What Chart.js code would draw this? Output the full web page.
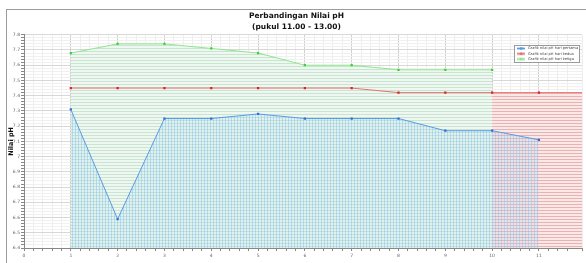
<!DOCTYPE html>
<html>
<head>
<meta charset="utf-8">
<script src="https://cdn.jsdelivr.net/npm/chart.js@4.4.0/dist/chart.umd.min.js"></script>
<style>
  html, body { margin: 0; padding: 0; overflow: hidden; background: #fff; }
  #wrap { width: 586px; height: 272px; position: relative; }
</style>
</head>
<body>
<div id="wrap"><canvas id="ph"></canvas></div>
<script>
// data
const dataX = [1, 2, 3, 4, 5, 6, 7, 8, 9, 10, 11, 12];
const phDay1 = [7.31, 6.59, 7.25, 7.25, 7.28, 7.25, 7.25, 7.25, 7.17, 7.17, 7.11];
const phDay2 = [7.45, 7.45, 7.45, 7.45, 7.45, 7.45, 7.45, 7.42, 7.42, 7.42, 7.42, 7.42];
const phDay3 = [7.68, 7.74, 7.74, 7.71, 7.68, 7.60, 7.60, 7.57, 7.57, 7.57];
const seriesLabels = ['Grafik nilai pH hari pertama', 'Grafik nilai pH hari kedua', 'Grafik nilai pH hari ketiga'];
const titleLines = ['Perbandingan Nilai pH', '(pukul 11.00 - 13.00)'];
const xTitle = 'Jumlah Data Pengujian pH';
const yTitle = 'Nilai pH';

const pts = (ys) => ys.map((y, i) => ({ x: dataX[i], y: y }));

function hatch(bg, line, vertical, gap) {
  const c = document.createElement('canvas');
  c.width = gap; c.height = gap;
  const g = c.getContext('2d');
  g.fillStyle = bg;
  g.fillRect(0, 0, gap, gap);
  g.fillStyle = line;
  if (vertical) g.fillRect(0, 0, 1, gap);
  else g.fillRect(0, 0, gap, 1);
  return g.createPattern(c, 'repeat');
}

const isMajor = (v, step) => Math.abs(v / step - Math.round(v / step)) < 1e-6;

// gray frame around the figure
const framePlugin = {
  id: 'frame',
  beforeDraw(chart) {
    const ctx = chart.ctx;
    ctx.save();
    ctx.strokeStyle = '#9c9c9c';
    ctx.lineWidth = 1;
    ctx.strokeRect(6.5, 9.5, 700, 400);
    ctx.restore();
  }
};

// small boxed legend inside the plot, top right
const boxLegend = {
  id: 'boxLegend',
  afterDatasetsDraw(chart) {
    const ctx = chart.ctx;
    const x = 514, y = 45, w = 65, h = 17;
    ctx.save();
    ctx.fillStyle = '#fff';
    ctx.fillRect(x, y, w, h);
    ctx.strokeStyle = '#9a9a9a';
    ctx.strokeRect(x + 0.5, y + 0.5, w, h);
    ctx.font = '3.6px "DejaVu Sans"';
    ctx.textBaseline = 'middle';
    chart.data.datasets.forEach((ds, i) => {
      const cy = y + 3.5 + i * 5.3;
      ctx.fillStyle = ds.legendFill;
      ctx.fillRect(x + 3, cy - 1.5, 8, 3);
      ctx.fillStyle = ds.borderColor;
      ctx.fillRect(x + 3, cy - 0.5, 8, 1);
      ctx.fillRect(x + 6, cy - 1.2, 2.4, 2.4);
      ctx.fillStyle = '#444';
      ctx.fillText(ds.label, x + 14, cy);
    });
    ctx.restore();
  }
};

const phConfig = {
  type: 'line',
  data: {
    datasets: [
      {
        label: seriesLabels[0],
        data: pts(phDay1),
        borderColor: '#5a9be6',
        pointBackgroundColor: '#2f6fd8',
        legendFill: '#bcd8f4',
        backgroundColor: hatch('rgba(175,215,240,0.2)', 'rgba(135,195,238,0.5)', true, 3),
        fill: 'start',
        order: 0,
      },
      {
        label: seriesLabels[1],
        data: pts(phDay2),
        borderColor: '#e87070',
        pointBackgroundColor: '#e02020',
        legendFill: '#f2c4c4',
        backgroundColor: hatch('#f9e8e8', '#ebb2b2', false, 3),
        fill: 'start',
        order: 2,
      },
      {
        label: seriesLabels[2],
        data: pts(phDay3),
        borderColor: '#8ee68e',
        pointBackgroundColor: '#3fcf3f',
        legendFill: '#cdf0cd',
        backgroundColor: hatch('#eef7f1', '#c9e5d0', false, 3),
        fill: 'start',
        order: 1,
      },
    ],
  },
  options: {
    responsive: true,
    maintainAspectRatio: false,
    animation: false,
    layout: { padding: { left: 7, right: 0, top: 10, bottom: 0 } },
    elements: {
      line: { borderWidth: 1, tension: 0 },
      point: { pointStyle: 'rect', radius: 1.6, borderWidth: 0 },
    },
    plugins: {
      legend: { display: false },
      tooltip: { enabled: false },
      filler: { drawTime: 'beforeDatasetsDraw' },
      title: {
        display: true,
        text: titleLines,
        color: '#111',
        font: { family: 'DejaVu Sans', size: 7.5, weight: 'bold', lineHeight: 1.45 },
        padding: { top: 1, bottom: 2 },
      },
    },
    scales: {
      x: {
        type: 'linear',
        min: 0,
        max: 11.92,
        border: { color: '#888' },
        grid: {
          color: (c) => isMajor(c.tick.value, 1) ? '#cfcfcf' : '#eeeeee',
          tickColor: '#888',
          tickLength: 3,
        },
        ticks: {
          stepSize: 0.2,
          autoSkip: false,
          maxRotation: 0,
          padding: 2,
          color: '#666',
          font: { family: 'DejaVu Sans', size: 4.5 },
          callback: (v) => isMajor(v, 1) ? String(Math.round(v)) : '',
        },
        title: {
          display: true,
          text: xTitle,
          color: '#111',
          padding: { top: 2, bottom: 0 },
          font: { family: 'DejaVu Sans', size: 6.5, weight: 'bold' },
        },
        afterFit: (s) => { s.height = 24; },
      },
      y: {
        min: 6.4,
        max: 7.8,
        border: { color: '#888' },
        grid: {
          color: (c) => isMajor(c.tick.value, 0.1) ? '#d8d8d8' : '#f0f0f0',
          tickColor: '#888',
          tickLength: 3,
        },
        ticks: {
          stepSize: 0.02,
          autoSkip: false,
          padding: 1,
          color: '#666',
          font: { family: 'DejaVu Sans', size: 4.5 },
          callback: (v) => isMajor(v, 0.1) ? String(Math.round(v * 10) / 10) : '',
        },
        title: {
          display: true,
          text: yTitle,
          color: '#111',
          padding: { top: 0, bottom: 1 },
          font: { family: 'DejaVu Sans', size: 6.5, weight: 'bold' },
        },
        afterFit: (s) => { s.width = 17; },
      },
    },
  },
  plugins: [framePlugin, boxLegend],
};

const phCtx = document.getElementById('ph');
window.phChart = new Chart(phCtx, phConfig);
</script>
</body>
</html>
